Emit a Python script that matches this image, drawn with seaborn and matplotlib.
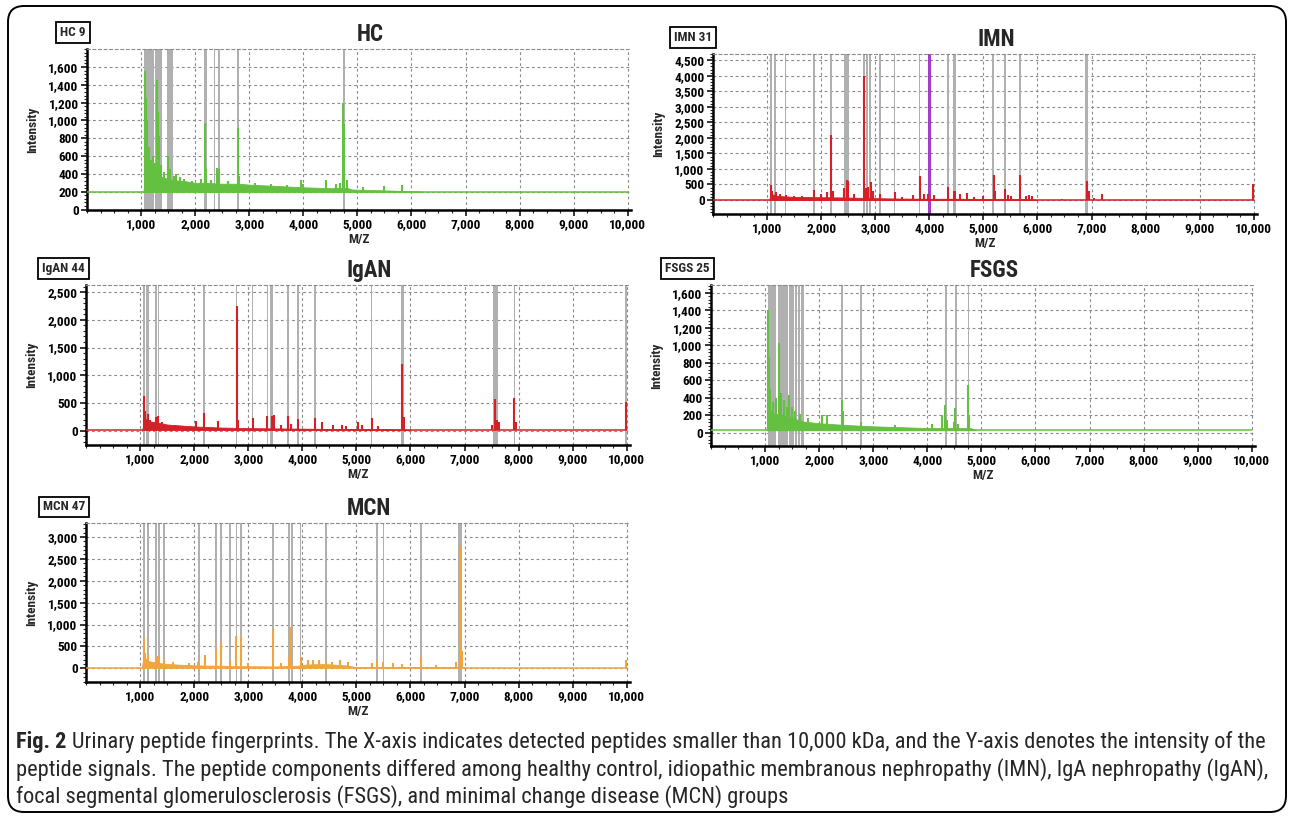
import matplotlib
matplotlib.use("Agg")
import matplotlib.pyplot as plt
import seaborn as sns
from matplotlib import font_manager
from matplotlib.ticker import FuncFormatter, FixedLocator, MultipleLocator, AutoMinorLocator
from matplotlib.patches import FancyBboxPatch
from matplotlib.transforms import IdentityTransform

sns.set_theme(style="ticks")

# pick a narrow sans if one is installed, else plain Liberation Sans
installed = {f.name for f in font_manager.fontManager.ttflist}
narrow = [n for n in ["Liberation Sans Narrow", "Arial Narrow", "Roboto Condensed",
                      "Open Sans Condensed", "DejaVu Sans Condensed", "Noto Sans Condensed"]
          if n in installed]
plt.rcParams['font.family'] = narrow[:1] + ['Liberation Sans', 'DejaVu Sans']
plt.rcParams['font.weight'] = 'bold'

# ---------------- data ----------------
# HC
hc_baseline = 200
hc_env_mz = [1040, 1060, 1080, 1120, 1200, 1300, 1400, 1600, 1800, 2000, 2200, 2500, 2800,
             3000, 3500, 4000, 4500, 4800, 4900, 5500, 6000, 6200]
hc_env_val = [200, 260, 560, 470, 420, 400, 360, 330, 320, 300, 300, 290, 290,
              280, 265, 250, 240, 245, 225, 215, 205, 200]
hc_peak_mz = [1075, 1090, 1110, 1140, 1180, 1220, 1260, 1290, 1310, 1325, 1360, 1420, 1500,
              1530, 1600, 1650, 1720, 1800, 1950, 2100, 2175, 2200, 2300, 2400, 2450, 2600,
              2790, 2820, 3100, 3400, 3700, 3950, 4000, 4420, 4600, 4680, 4740, 4760, 4800,
              5100, 5500, 5820]
hc_peak_val = [1560, 1250, 1000, 700, 560, 600, 520, 1450, 1100, 820, 500, 420, 600,
               450, 380, 400, 370, 340, 320, 340, 970, 450, 330, 470, 460, 320,
               910, 380, 300, 290, 280, 330, 290, 330, 290, 300, 1200, 960, 330,
               250, 260, 270]
hc_marks = [(1062, 1233), (1258, 1388), (1480, 1585), (2157, 2220), (2342, 2368),
            (2416, 2453), (2774, 2817), (4727, 4763)]

# IMN
imn_baseline = 0
imn_env_mz = [1040, 1060, 1100, 1200, 1500, 2000, 2500, 3000, 3500, 4000, 4500, 5000, 5500, 5900, 6000]
imn_env_val = [0, 150, 180, 130, 100, 90, 80, 60, 45, 40, 40, 35, 30, 25, 0]
imn_peak_mz = [1075, 1100, 1160, 1240, 1350, 1500, 1650, 1870, 2000, 2110, 2190, 2210, 2420,
               2480, 2500, 2600, 2790, 2830, 2870, 2920, 2950, 3080, 3360, 3500, 3700, 3820,
               3900, 3980, 4080, 4340, 4450, 4480, 4560, 4700, 4820, 5000, 5190, 5210, 5400,
               5450, 5520, 5680, 5780, 5850, 5900, 6450, 6910, 6950, 7050, 7200, 9990]
imn_peak_val = [480, 300, 250, 180, 150, 130, 120, 310, 200, 250, 2100, 300, 380,
                650, 600, 200, 4000, 400, 420, 590, 300, 200, 250, 100, 150, 770,
                200, 200, 150, 430, 300, 280, 200, 210, 100, 140, 800, 300, 370,
                150, 120, 790, 120, 150, 130, 40, 610, 300, 80, 200, 500]
imn_marks = [(1062, 1099), (1123, 1167), (1333, 1352), (1856, 1887), (2170, 2194),
             (2428, 2508), (2779, 2811), (2829, 2859), (2890, 2921), (3075, 3099),
             (3339, 3370), (3801, 3832), (4336, 4367), (4429, 4491), (5168, 5198),
             (5383, 5414), (5660, 5691), (6879, 6929)]
imn_highlight = 3995

# IgAN
igan_baseline = 15
igan_env_mz = [1040, 1060, 1090, 1150, 1300, 1500, 2000, 2500, 3000, 3500, 4000, 4500, 5000, 5500, 6000]
igan_env_val = [15, 100, 220, 170, 150, 110, 75, 55, 45, 40, 35, 30, 25, 25, 15]
igan_peak_mz = [1080, 1100, 1140, 1180, 1290, 1340, 1400, 1500, 1650, 1800, 2030, 2180, 2440,
                2790, 2810, 3080, 3350, 3440, 3470, 3600, 3740, 3800, 3920, 4240, 4360, 4560,
                4730, 4800, 5030, 5100, 5280, 5400, 5850, 5880, 7500, 7560, 7600, 7640, 7920,
                7960, 9990]
igan_peak_val = [630, 350, 300, 200, 250, 270, 150, 110, 100, 90, 180, 310, 180,
                 2250, 200, 230, 270, 270, 280, 100, 270, 120, 210, 230, 150, 100,
                 100, 80, 160, 100, 220, 80, 1200, 250, 100, 570, 200, 150, 580,
                 150, 520]
igan_marks = [(1061, 1092), (1110, 1166), (1276, 1307), (1326, 1355), (2166, 2197),
              (2768, 2799), (3063, 3094), (3339, 3370), (3407, 3462), (3726, 3757),
              (3904, 3934), (4223, 4254), (5267, 5297), (5831, 5886), (7525, 7611),
              (7906, 7937), (9965, 10000)]

# FSGS
fsgs_baseline = 30
fsgs_env_mz = [1030, 1050, 1080, 1150, 1300, 1500, 1700, 2000, 2500, 3000, 3500, 4000, 4500, 4800, 4900]
fsgs_env_val = [30, 350, 280, 220, 210, 170, 130, 110, 90, 75, 65, 55, 55, 55, 30]
fsgs_peak_mz = [1060, 1075, 1100, 1150, 1200, 1260, 1290, 1350, 1400, 1450, 1490, 1550, 1650,
                1800, 2050, 2140, 2420, 2440, 2780, 3400, 4080, 4280, 4330, 4360, 4500, 4520,
                4560, 4760, 4780]
fsgs_peak_val = [1410, 870, 500, 350, 400, 1030, 450, 380, 300, 430, 300, 250, 220,
                 170, 200, 200, 370, 250, 120, 90, 100, 200, 320, 150, 120, 280,
                 100, 545, 200]
fsgs_marks = [(1045, 1206), (1230, 1423), (1447, 1534), (1558, 1590), (1608, 1651),
              (1670, 1713), (2406, 2436), (2764, 2796), (4329, 4360), (4514, 4546),
              (4744, 4774)]

# MCN
mcn_baseline = 20
mcn_env_mz = [1030, 1050, 1080, 1150, 1300, 1500, 2000, 2500, 3000, 3500, 3900, 4100, 4400, 4800,
              5000, 5500, 7000]
mcn_env_val = [20, 150, 250, 170, 130, 100, 70, 60, 50, 45, 60, 90, 100, 70, 30, 25, 25]
mcn_peak_mz = [1080, 1100, 1150, 1290, 1340, 1450, 1600, 1900, 2080, 2200, 2400, 2490, 2660,
               2780, 2860, 3000, 3460, 3600, 3750, 3800, 3970, 4100, 4200, 4300, 4430, 4550,
               4700, 4850, 5280, 5380, 5500, 5680, 5850, 6200, 6480, 6850, 6910, 6950, 9990]
mcn_peak_val = [700, 350, 300, 250, 280, 200, 150, 130, 150, 300, 450, 600, 180,
                730, 710, 120, 910, 120, 250, 950, 250, 200, 190, 200, 170, 150,
                200, 150, 130, 180, 150, 120, 100, 250, 80, 150, 2800, 400, 200]
mcn_marks = [(1061, 1092), (1123, 1172), (1271, 1308), (1332, 1363), (1430, 1461),
             (2070, 2101), (2384, 2415), (2476, 2507), (2648, 2679), (2765, 2795),
             (2845, 2876), (3441, 3472), (3743, 3773), (3792, 3823), (3952, 3983),
             (4419, 4450), (5367, 5397), (5489, 5520), (6184, 6216), (6886, 6947)]

x_ticks = [1000, 2000, 3000, 4000, 5000, 6000, 7000, 8000, 9000, 10000]

caption_lines = [
    "Urinary peptide fingerprints. The X-axis indicates detected peptides smaller than 10,000 kDa, and the Y-axis denotes the intensity of the",
    "peptide signals. The peptide components differed among healthy control, idiopathic membranous nephropathy (IMN), IgA nephropathy (IgAN),",
    "focal segmental glomerulosclerosis (FSGS), and minimal change disease (MCN) groups",
]

GREEN = "#63c040"
RED = "#d42026"
ORANGE = "#f2a53c"
MARK = "#b0b0b0"
GRID = "#8a8a8a"

W, H = 1292, 816
fig = plt.figure(figsize=(W / 100, H / 100), dpi=100)
fig.patch.set_facecolor("white")


def add_axes_px(left, top, right, bottom):
    return fig.add_axes([left / W, 1 - bottom / H, (right - left) / W, (bottom - top) / H])


comma = FuncFormatter(lambda v, p: f"{int(round(v)):,}")


def draw_panel(ax, title, tag, color, baseline, env_mz, env_val, pk_mz, pk_val, marks,
               yticks, ylim, highlight=None):
    ax.set_xlim(0, 10060)
    ax.set_ylim(*ylim)
    for a, b in marks:
        ax.axvspan(a, b, color=MARK, lw=0, zorder=1)
    if highlight is not None:
        ax.axvline(highlight, color="#a43cc9", lw=2.2, zorder=1.5)
    ax.fill_between(env_mz, baseline, env_val, color=color, lw=0.6, zorder=2)
    ax.vlines(pk_mz, baseline, pk_val, color=color, lw=1.5, zorder=3)
    sns.lineplot(x=[0, 10000], y=[baseline, baseline], color=color, lw=1.1, ax=ax, zorder=3)

    ax.xaxis.set_major_locator(FixedLocator(x_ticks))
    ax.xaxis.set_minor_locator(MultipleLocator(250))
    ax.yaxis.set_major_locator(FixedLocator(yticks))
    ax.yaxis.set_minor_locator(AutoMinorLocator(5))
    ax.xaxis.set_major_formatter(comma)
    ax.yaxis.set_major_formatter(comma)
    ax.tick_params(which="major", direction="out", length=4, width=1.1, labelsize=9.5,
                   pad=2, bottom=True, left=True, colors="black")
    ax.tick_params(which="minor", direction="out", length=2.5, width=0.8, bottom=True, left=True)
    for lab in ax.get_xticklabels() + ax.get_yticklabels():
        lab.set_fontweight("bold")

    ax.set_axisbelow(True)
    ax.grid(True, which="major", color=GRID, lw=0.8, ls=(0, (2.5, 2.5)))
    ax.spines["right"].set_visible(False)
    ax.spines["top"].set_color(GRID)
    ax.spines["top"].set_linewidth(0.8)
    ax.spines["top"].set_linestyle((0, (2.5, 2.5)))
    for s in ("left", "bottom"):
        ax.spines[s].set_color("black")
        ax.spines[s].set_linewidth(1.8)

    ax.set_xlabel("M/Z", fontsize=9.5, fontweight="bold", labelpad=1)
    ax.set_ylabel("Intensity", fontsize=9.5, fontweight="bold")
    ax.yaxis.set_label_coords(-0.088, 0.5)
    ax.text(0.52, 1.02, title, transform=ax.transAxes, ha="center", va="bottom",
            fontsize=16.5, fontweight="bold")
    ax.text(-0.002, 1.06, tag, transform=ax.transAxes, ha="right", va="bottom",
            fontsize=9.5, fontweight="bold",
            bbox=dict(boxstyle="square,pad=0.3", fc="white", ec="black", lw=1.3))


ax_hc = add_axes_px(87, 49, 631, 210)
draw_panel(ax_hc, "HC", "HC 9", GREEN, hc_baseline, hc_env_mz, hc_env_val,
           hc_peak_mz, hc_peak_val, hc_marks, list(range(0, 1601, 200)), (-5, 1802))

ax_imn = add_axes_px(713, 54, 1257, 214)
draw_panel(ax_imn, "IMN", "IMN 31", RED, imn_baseline, imn_env_mz, imn_env_val,
           imn_peak_mz, imn_peak_val, imn_marks, list(range(0, 4501, 500)), (-450, 4700),
           highlight=imn_highlight)

ax_igan = add_axes_px(86, 285, 630, 445)
draw_panel(ax_igan, "IgAN", "IgAN 44", RED, igan_baseline, igan_env_mz, igan_env_val,
           igan_peak_mz, igan_peak_val, igan_marks, list(range(0, 2501, 500)), (-260, 2630))

ax_fsgs = add_axes_px(711, 285, 1255, 446)
draw_panel(ax_fsgs, "FSGS", "FSGS 25", GREEN, fsgs_baseline, fsgs_env_mz, fsgs_env_val,
           fsgs_peak_mz, fsgs_peak_val, fsgs_marks, list(range(0, 1601, 200)), (-150, 1690))

ax_mcn = add_axes_px(86, 523, 630, 682)
draw_panel(ax_mcn, "MCN", "MCN 47", ORANGE, mcn_baseline, mcn_env_mz, mcn_env_val,
           mcn_peak_mz, mcn_peak_val, mcn_marks, list(range(0, 3001, 500)), (-310, 3317))

# outer rounded frame
frame = FancyBboxPatch((8, H - 812), 1278, 806, boxstyle="round,pad=0,rounding_size=16",
                       transform=IdentityTransform(), fill=False, ec="black", lw=1.4)
fig.patches.append(frame)

# caption, fitted to the width seen in the picture
cap_x = 16
cap_y = [742, 770, 797]
cap_size = 14
fig.canvas.draw()
renderer = fig.canvas.get_renderer()
probe = fig.text(0, 0, caption_lines[1], fontsize=cap_size, fontweight="normal")
w = probe.get_window_extent(renderer).width
probe.remove()
cap_size = min(cap_size * 1255 / w, 17)

head = fig.text(cap_x / W, 1 - cap_y[0] / H, "Fig. 2", fontsize=cap_size, fontweight="bold",
                va="center", ha="left")
hw = head.get_window_extent(renderer).x1
fig.text((hw + cap_size * 0.35) / W, 1 - cap_y[0] / H, caption_lines[0], fontsize=cap_size,
         fontweight="normal", va="center", ha="left")
for line, y in zip(caption_lines[1:], cap_y[1:]):
    fig.text(cap_x / W, 1 - y / H, line, fontsize=cap_size, fontweight="normal",
             va="center", ha="left")

fig.savefig("out.png", dpi=100)
